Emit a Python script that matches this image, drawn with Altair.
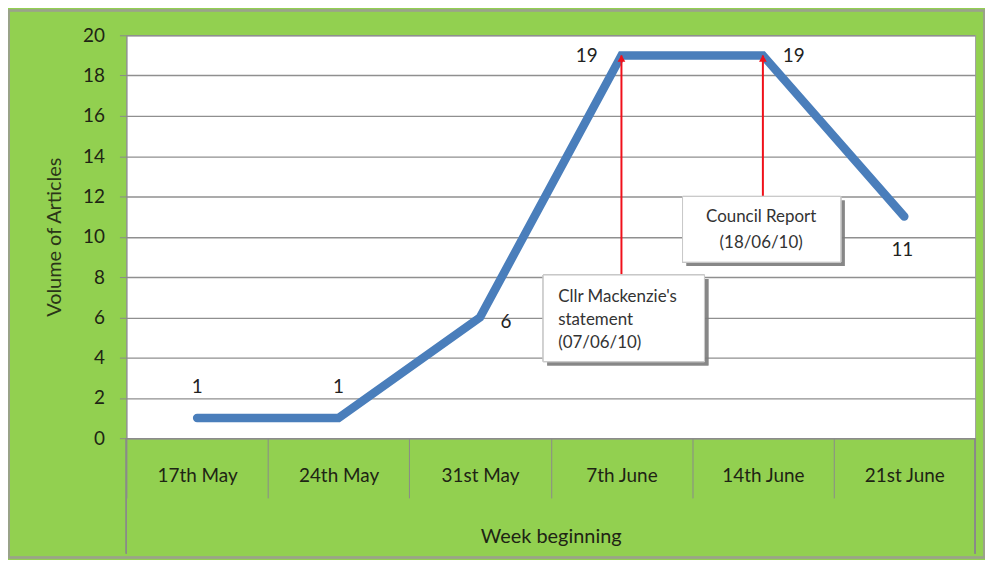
import altair as alt
import pandas as pd

weeks = ["17th May", "24th May", "31st May", "7th June", "14th June", "21st June"]
volumes = [1, 1, 6, 19, 19, 11]

label_above = ["17th May", "24th May"]
label_right_mid = ["31st May"]
label_left = ["7th June"]
label_right = ["14th June"]
label_below = ["21st June"]

events = ["7th June", "14th June"]
event_texts = [["Cllr Mackenzie's", "statement", "(07/06/10)"], ["Council Report", "(18/06/10)"]]

df = pd.DataFrame({"week": weeks, "volume": volumes})

W, H = 853, 405
FONT = "Lato"
TXT = "#1e2414"

x_enc = alt.X("week:N", sort=weeks, scale=alt.Scale(paddingInner=0, paddingOuter=0),
              axis=alt.Axis(title="Week beginning", labelAngle=0, tickBand="extent", tickSize=60,
                            tickColor="#8a8a8a", domainColor="#8a8a8a", labelPadding=-22,
                            labelBaseline="middle", labelFontSize=19, labelColor=TXT,
                            titleFontSize=20, titleFontWeight="normal", titleColor=TXT,
                            titlePadding=28, labelFont=FONT, titleFont=FONT))
y_enc = alt.Y("volume:Q", scale=alt.Scale(domain=[0, 20]),
              axis=alt.Axis(title="Volume of Articles", values=list(range(0, 21, 2)), tickSize=7,
                            tickColor="#8a8a8a", domainColor="#8a8a8a", gridColor="#8f8f8f",
                            gridWidth=1.4, labelFontSize=19, labelColor=TXT, labelPadding=15,
                            titleFontSize=20, titleFontWeight="normal", titleColor="#2a3518",
                            titlePadding=18, labelFont=FONT, titleFont=FONT))

base = alt.Chart(df)

line = base.mark_line(color="#4A7EBB", strokeWidth=8.5, strokeCap="round", strokeJoin="miter").encode(
    x=x_enc, y=y_enc)

def lbl(cats, dx, dy):
    return base.transform_filter(alt.FieldOneOfPredicate(field="week", oneOf=cats)).mark_text(
        font=FONT, fontSize=19, color="#222222", dx=dx, dy=dy, baseline="middle").encode(
        x=alt.X("week:N", sort=weeks), y="volume:Q", text="volume:Q")

labels = [lbl(label_above, 0, -31), lbl(label_right_mid, 26, 5), lbl(label_left, -35, 1),
          lbl(label_right, 31, 1), lbl(label_below, -2, 34)]

# side lines of the category table below the axis
edges = [
    alt.Chart(df).mark_rule(color="#8a8a8a", strokeWidth=1.2).encode(
        x=alt.value(0), y=alt.value(H), y2=alt.value(H + 116)),
    alt.Chart(df).mark_rule(color="#8a8a8a", strokeWidth=1.2).encode(
        x=alt.value(W), y=alt.value(H), y2=alt.value(H + 116)),
]

# annotation boxes (x0, y0, x1, y1 in view pixels)
boxes = [(419, 241, 581, 328), (559, 162, 718, 228)]
arrow_bases = [241, 162]

ann = []
for i, ev in enumerate(events):
    ev_df = pd.DataFrame({"week": [ev], "volume": [19]})
    ann.append(alt.Chart(ev_df).mark_rule(color="#F0101A", strokeWidth=2).encode(
        x=alt.X("week:N", sort=weeks), y="volume:Q", y2=alt.value(arrow_bases[i])))
    ann.append(alt.Chart(ev_df).mark_point(shape="triangle-up", filled=True, size=60,
                                           color="#F0101A", opacity=1, yOffset=3).encode(
        x=alt.X("week:N", sort=weeks), y="volume:Q"))

for i, (x0, y0, x1, y1) in enumerate(boxes):
    ann.append(alt.Chart(df).mark_rect(fill="#7f7f7f", opacity=0.35).encode(
        x=alt.value(x0 + 4), x2=alt.value(x1 + 4), y=alt.value(y0 + 4), y2=alt.value(y1 + 4)))
    ann.append(alt.Chart(df).mark_rect(fill="white", stroke="#c8c8c8", strokeWidth=1).encode(
        x=alt.value(x0), x2=alt.value(x1), y=alt.value(y0), y2=alt.value(y1)))

t1 = event_texts[0]
for j, s in enumerate(t1):
    ann.append(alt.Chart(pd.DataFrame({"t": [s]})).mark_text(
        font=FONT, fontSize=17, color="#333333", align="left", baseline="middle").encode(
        x=alt.value(434), y=alt.value(263 + 23 * j), text="t:N"))
t2 = event_texts[1]
for j, s in enumerate(t2):
    ann.append(alt.Chart(pd.DataFrame({"t": [s]})).mark_text(
        font=FONT, fontSize=17, color="#333333", align="center", baseline="middle").encode(
        x=alt.value(638), y=alt.value(183 + 26 * j), text="t:N"))

# outer border of the chart panel
frame = alt.Chart(df).mark_rect(fill="transparent", stroke="#9aa38a", strokeWidth=1.5).encode(
    x=alt.value(-118), x2=alt.value(W + 9), y=alt.value(-25), y2=alt.value(H + 120))

chart = alt.layer(line, *edges, *ann, *labels, frame).properties(
    width=W, height=H,
    autosize=alt.AutoSizeParams(type="none"),
    padding={"left": 119, "top": 26, "right": 10, "bottom": 121},
    background="#92D050",
).configure_view(fill="white", stroke="#a0a0a0")

chart.save("out.html", embed_options={"renderer": "svg", "actions": False})
